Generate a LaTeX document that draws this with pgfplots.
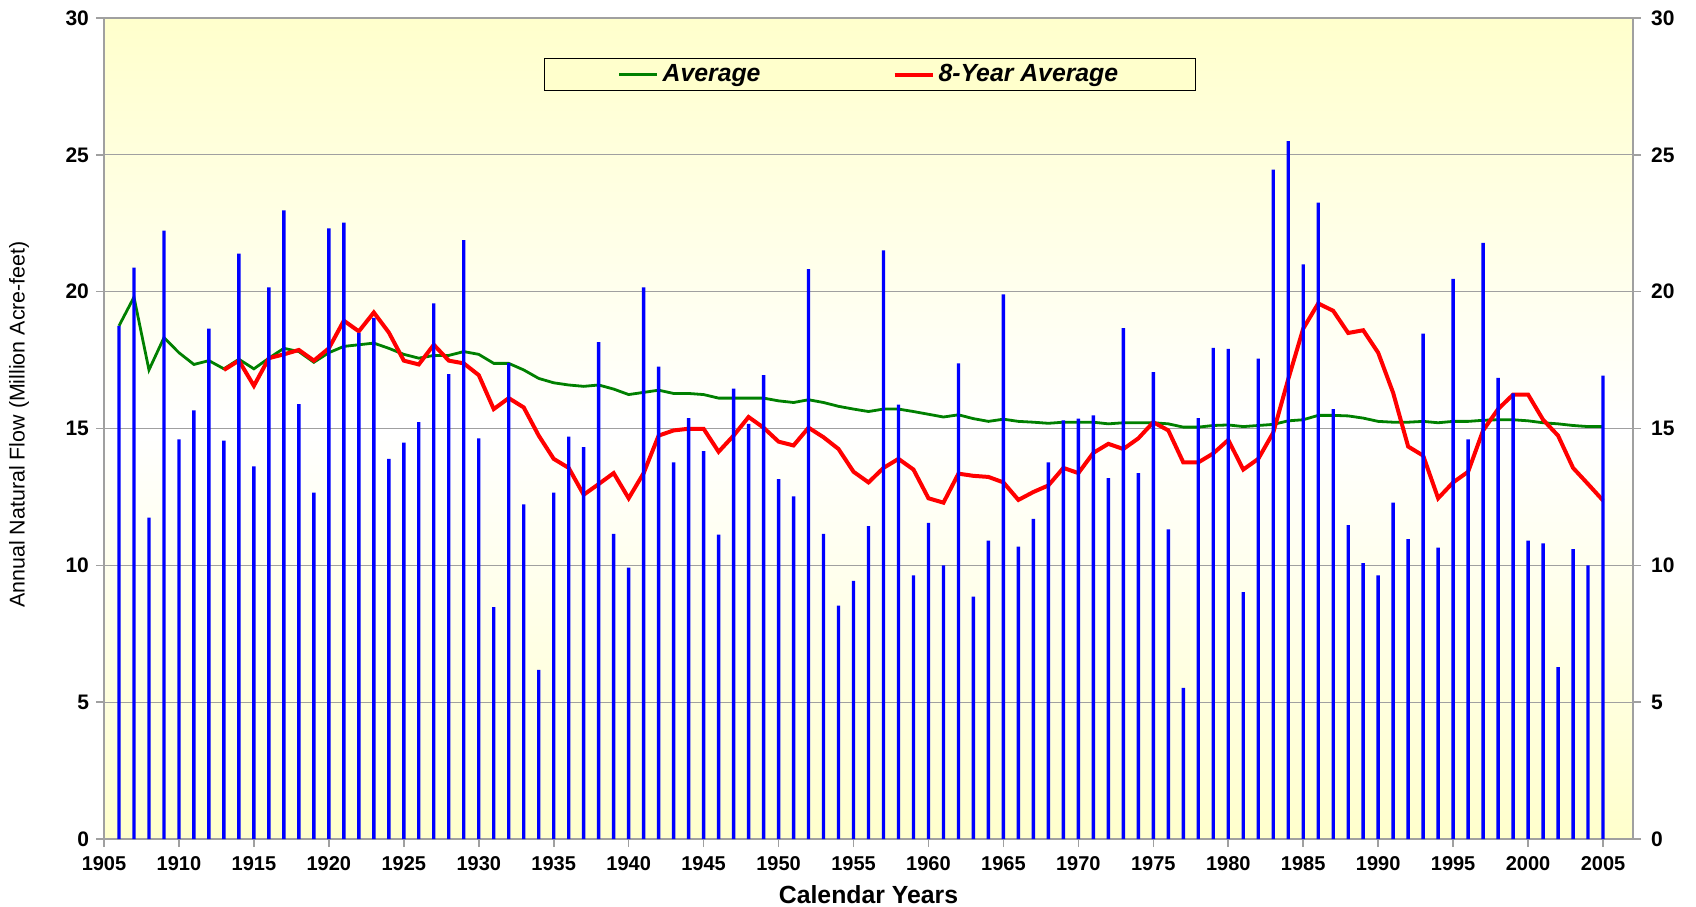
\documentclass[border=0pt]{standalone}
\usepackage{fontspec}
\setmainfont{Liberation Sans}
\usepackage{pgfplots}
\usepackage{pgfplotstable}
\pgfplotsset{compat=1.18}
\definecolor{bgyellow}{HTML}{FFFFCC}
\definecolor{axgray}{HTML}{A0A0A0}
\definecolor{avggreen}{HTML}{008000}

\pgfplotstableread{
year flow
1906 18.75
1907 20.88
1908 11.74
1909 22.23
1910 14.60
1911 15.66
1912 18.65
1913 14.56
1914 21.39
1915 13.62
1916 20.16
1917 22.97
1918 15.89
1919 12.66
1920 22.31
1921 22.52
1922 18.49
1923 19.04
1924 13.89
1925 14.48
1926 15.23
1927 19.57
1928 16.99
1929 21.88
1930 14.64
1931 8.47
1932 17.40
1933 12.23
1934 6.18
1935 12.66
1936 14.70
1937 14.32
1938 18.16
1939 11.15
1940 9.92
1941 20.16
1942 17.26
1943 13.76
1944 15.38
1945 14.17
1946 11.12
1947 16.46
1948 15.17
1949 16.95
1950 13.15
1951 12.52
1952 20.82
1953 11.15
1954 8.53
1955 9.43
1956 11.43
1957 21.51
1958 15.87
1959 9.63
1960 11.55
1961 10.00
1962 17.38
1963 8.86
1964 10.90
1965 19.90
1966 10.68
1967 11.70
1968 13.76
1969 15.30
1970 15.36
1971 15.48
1972 13.19
1973 18.67
1974 13.37
1975 17.06
1976 11.31
1977 5.52
1978 15.38
1979 17.95
1980 17.91
1981 9.02
1982 17.55
1983 24.46
1984 25.50
1985 21.00
1986 23.25
1987 15.71
1988 11.47
1989 10.08
1990 9.63
1991 12.29
1992 10.96
1993 18.47
1994 10.65
1995 20.47
1996 14.60
1997 21.78
1998 16.85
1999 16.28
2000 10.90
2001 10.80
2002 6.28
2003 10.59
2004 10.00
2005 16.93
}\flowtable

\pgfplotstableread{
year avg
1906 18.75
1907 19.80
1908 17.14
1909 18.32
1910 17.77
1911 17.34
1912 17.48
1913 17.18
1914 17.53
1915 17.18
1916 17.57
1917 17.93
1918 17.81
1919 17.42
1920 17.77
1921 18.00
1922 18.06
1923 18.12
1924 17.93
1925 17.71
1926 17.57
1927 17.67
1928 17.67
1929 17.81
1930 17.71
1931 17.38
1932 17.38
1933 17.14
1934 16.83
1935 16.67
1936 16.59
1937 16.54
1938 16.59
1939 16.44
1940 16.24
1941 16.32
1942 16.40
1943 16.28
1944 16.28
1945 16.24
1946 16.11
1947 16.11
1948 16.11
1949 16.11
1950 16.01
1951 15.95
1952 16.05
1953 15.95
1954 15.81
1955 15.71
1956 15.62
1957 15.71
1958 15.71
1959 15.62
1960 15.52
1961 15.42
1962 15.50
1963 15.36
1964 15.26
1965 15.34
1966 15.26
1967 15.23
1968 15.19
1969 15.23
1970 15.23
1971 15.23
1972 15.17
1973 15.21
1974 15.21
1975 15.21
1976 15.17
1977 15.05
1978 15.05
1979 15.11
1980 15.13
1981 15.07
1982 15.11
1983 15.15
1984 15.28
1985 15.32
1986 15.48
1987 15.48
1988 15.46
1989 15.38
1990 15.26
1991 15.23
1992 15.23
1993 15.26
1994 15.21
1995 15.26
1996 15.26
1997 15.30
1998 15.32
1999 15.32
2000 15.28
2001 15.21
2002 15.17
2003 15.11
2004 15.07
2005 15.07
}\avgtable

\pgfplotstableread{
year ma
1913 17.14
1914 17.48
1915 16.56
1916 17.57
1917 17.71
1918 17.87
1919 17.48
1920 17.93
1921 18.94
1922 18.55
1923 19.24
1924 18.51
1925 17.48
1926 17.34
1927 18.06
1928 17.48
1929 17.38
1930 16.95
1931 15.71
1932 16.11
1933 15.77
1934 14.74
1935 13.89
1936 13.56
1937 12.58
1938 12.97
1939 13.37
1940 12.45
1941 13.37
1942 14.74
1943 14.93
1944 14.99
1945 14.99
1946 14.15
1947 14.74
1948 15.42
1949 15.03
1950 14.52
1951 14.38
1952 15.03
1953 14.68
1954 14.25
1955 13.42
1956 13.03
1957 13.56
1958 13.89
1959 13.50
1960 12.45
1961 12.29
1962 13.35
1963 13.27
1964 13.23
1965 13.03
1966 12.39
1967 12.68
1968 12.92
1969 13.56
1970 13.37
1971 14.11
1972 14.44
1973 14.25
1974 14.64
1975 15.23
1976 14.93
1977 13.76
1978 13.76
1979 14.09
1980 14.58
1981 13.50
1982 13.89
1983 14.85
1984 16.80
1985 18.65
1986 19.57
1987 19.30
1988 18.49
1989 18.59
1990 17.77
1991 16.30
1992 14.34
1993 14.01
1994 12.45
1995 13.03
1996 13.42
1997 14.93
1998 15.71
1999 16.24
2000 16.24
2001 15.32
2002 14.74
2003 13.56
2004 12.97
2005 12.37
}\matable

\begin{document}
\begin{tikzpicture}
\begin{axis}[
  width=764.5pt, height=410.5pt, scale only axis,
  xmin=1905, xmax=2007, ymin=0, ymax=30,
  xtick={1905,1910,...,2005}, ytick={0,5,...,30},
  xtick pos=bottom, ytick pos=left,
  tick align=outside,
  major tick length=4pt,
  tick style={axgray, line width=0.8pt},
  axis line style={axgray, line width=0.8pt},
  ymajorgrids, grid style={axgray, line width=0.6pt},
  axis background/.style={shade, top color=bgyellow, bottom color=bgyellow, middle color=white},
  /pgf/number format/1000 sep={},
  /pgf/number format/assume math mode=true,
  xticklabel style={font=\bfseries\fontsize{10}{12}\selectfont, yshift=-1pt},
  yticklabel style={font=\bfseries\fontsize{10.5}{12}\selectfont},
  xlabel={Calendar Years},
  xlabel style={font=\bfseries\fontsize{12.4}{14}\selectfont, at={(axis description cs:0.5,-0.068)}, anchor=center, inner sep=0pt},
  ylabel={Annual Natural Flow (Million Acre-feet)},
  ylabel style={font=\fontsize{10.7}{12}\selectfont, at={(axis description cs:-0.0556,0.505)}, anchor=center, inner sep=0pt},
  legend style={at={(0.501,0.931)}, anchor=center, fill=bgyellow, draw=black, line width=0.6pt,
    font=\bfseries\itshape\fontsize{12.4}{14}\selectfont, inner xsep=36.5pt, inner ysep=1pt,
    /tikz/every even column/.append style={column sep=64pt}},
  legend columns=2,
  legend image code/.code={\draw[#1] (0pt,0pt) -- (19pt,0pt);},
]
\addplot[avggreen, line width=1.4pt] table[x=year, y=avg] {\avgtable};
\addlegendentry{Average}
\addplot[red, line width=2pt] table[x=year, y=ma] {\matable};
\addlegendentry{8-Year Average}
\addplot[ybar, bar width=1.7pt, fill=blue, draw=none, forget plot] table[x=year, y=flow] {\flowtable};
\end{axis}
\begin{axis}[
  width=764.5pt, height=410.5pt, scale only axis,
  xmin=1905, xmax=2007, ymin=0, ymax=30,
  ytick={0,5,...,30},
  hide x axis,
  axis y line*=right,
  tick align=outside,
  major tick length=4pt,
  tick style={axgray, line width=0.8pt},
  axis line style={axgray, line width=0.8pt},
  /pgf/number format/assume math mode=true,
  yticklabel style={font=\bfseries\fontsize{10.5}{12}\selectfont, xshift=1.5pt},
]
\addplot[draw=none] coordinates {(1905,0)};
\end{axis}
\path ([shift={(-52pt,-33.5pt)}]current axis.south west) rectangle ([shift={(31.5pt,9pt)}]current axis.north east);
\end{tikzpicture}
\end{document}
